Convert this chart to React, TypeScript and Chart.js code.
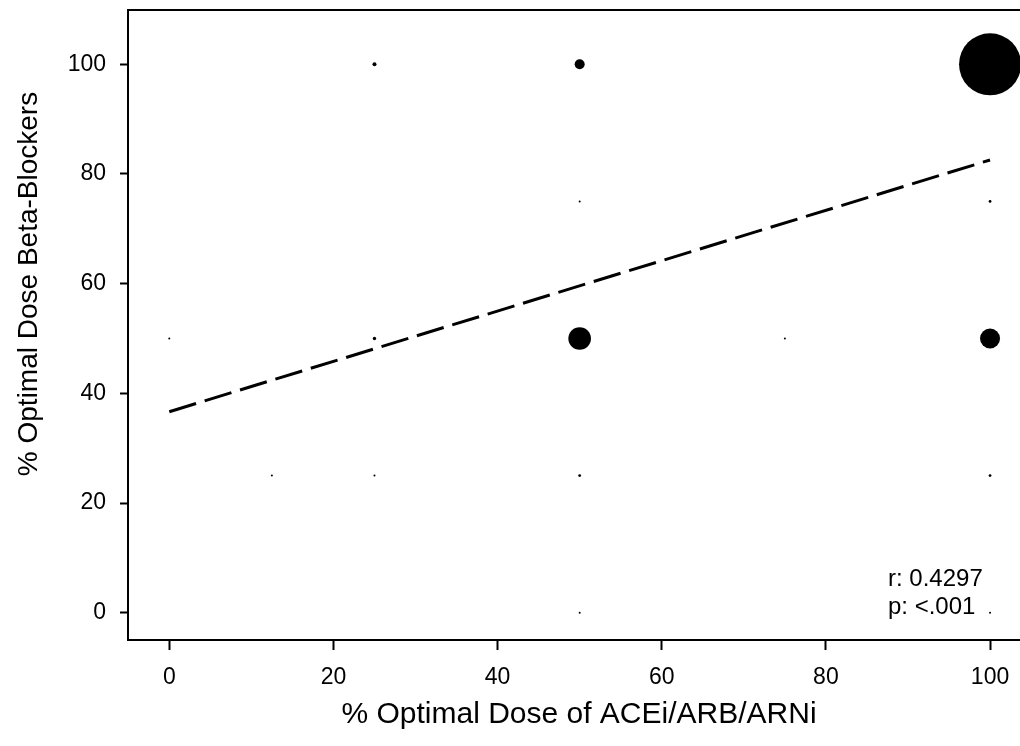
import React, { useEffect, useRef } from 'react';
import { Chart, registerables } from 'chart.js';

Chart.register(...registerables);

// ---- data ----
const xTicks = [0, 20, 40, 60, 80, 100];
const yTicks = [0, 20, 40, 60, 80, 100];
const aceDose = [25, 50, 100, 50, 100, 0, 25, 50, 75, 100, 12.5, 25, 50, 100, 50, 100];
const bbDose = [100, 100, 100, 75, 75, 50, 50, 50, 50, 50, 25, 25, 25, 25, 0, 0];
const patientCount = [4, 25, 961, 1, 2, 1, 3, 128, 1, 100, 1, 1, 2, 2, 1, 1];
const fitX = [0, 100];
const fitY = [36.65, 82.55];
const statLines = ['r: 0.4297', 'p: <.001'];
const xTitle = '% Optimal Dose of ACEi/ARB/ARNi';
const yTitle = '% Optimal Dose Beta-Blockers';

const FONT = "'Liberation Sans', Arial, sans-serif";

function zeroPadding(s: any) {
  s.paddingLeft = 0;
  s.paddingRight = 0;
  s.paddingTop = 0;
  s.paddingBottom = 0;
}

export default function App() {
  const ref = useRef<HTMLCanvasElement | null>(null);

  useEffect(() => {
    document.body.style.margin = '0';
    const canvas = ref.current;
    if (!canvas) return;

    const textPlugin = {
      id: 'textPlugin',
      afterDraw(chart: any) {
        const ctx = chart.ctx as CanvasRenderingContext2D;
        const area = chart.chartArea;
        ctx.save();
        // top frame line
        ctx.strokeStyle = '#000';
        ctx.lineWidth = 2;
        ctx.beginPath();
        ctx.moveTo(area.left - 1, area.top);
        ctx.lineTo(area.right, area.top);
        ctx.stroke();

        ctx.fillStyle = '#000';
        // x title
        ctx.font = `30px ${FONT}`;
        ctx.textAlign = 'center';
        ctx.textBaseline = 'alphabetic';
        ctx.fillText(xTitle, 579, 723);
        // y title
        ctx.font = `28px ${FONT}`;
        ctx.save();
        ctx.translate(37, 284);
        ctx.rotate(-Math.PI / 2);
        ctx.fillText(yTitle, 0, 0);
        ctx.restore();
        // stats
        ctx.font = `24px ${FONT}`;
        ctx.textAlign = 'left';
        ctx.fillText(statLines[0], 888, 586);
        ctx.fillText(statLines[1], 888, 614);
        ctx.restore();
      },
    };

    const chart = new Chart(canvas, {
      type: 'bubble',
      data: {
        datasets: [
          {
            type: 'scatter',
            data: fitX.map((x, i) => ({ x, y: fitY[i] })),
            showLine: true,
            borderColor: '#000',
            borderWidth: 3,
            borderDash: [28, 9],
            pointRadius: 0,
            pointHoverRadius: 0,
            fill: false,
          } as any,
          {
            type: 'bubble',
            data: aceDose.map((x, i) => ({ x, y: bbDose[i], r: Math.sqrt(patientCount[i]) })),
            backgroundColor: '#000',
            borderColor: '#000',
            borderWidth: 0,
            hoverRadius: 0,
          } as any,
        ],
      },
      options: {
        responsive: false,
        animation: false,
        events: [],
        layout: { autoPadding: false, padding: { top: 10, left: 0, right: 0, bottom: 0 } },
        plugins: { legend: { display: false }, tooltip: { enabled: false } },
        scales: {
          x: {
            type: 'linear',
            min: -5.03,
            max: 103.65,
            afterBuildTicks: (s: any) => {
              s.ticks = xTicks.map((v) => ({ value: v }));
            },
            afterFit: (s: any) => {
              s.height = 106;
              zeroPadding(s);
            },
            grid: {
              drawOnChartArea: false,
              drawTicks: true,
              tickLength: 10,
              tickWidth: 2,
              tickColor: '#000',
            },
            border: { display: true, color: '#000', width: 2 },
            ticks: {
              color: '#000',
              font: { family: FONT, size: 23 },
              padding: 14,
              maxRotation: 0,
              autoSkip: false,
            },
          },
          y: {
            type: 'linear',
            min: -4.98,
            max: 109.9,
            afterBuildTicks: (s: any) => {
              s.ticks = yTicks.map((v) => ({ value: v }));
            },
            afterFit: (s: any) => {
              s.width = 128;
              zeroPadding(s);
            },
            grid: {
              drawOnChartArea: false,
              drawTicks: true,
              tickLength: 8,
              tickWidth: 2,
              tickColor: '#000',
            },
            border: { display: true, color: '#000', width: 2 },
            ticks: {
              color: '#000',
              font: { family: FONT, size: 23 },
              padding: 14,
              autoSkip: false,
            },
          },
        },
      } as any,
      plugins: [textPlugin],
    });

    return () => chart.destroy();
  }, []);

  return (
    <div style={{ width: 1020, height: 746, background: '#fff' }}>
      <canvas ref={ref} width={1020} height={746} style={{ display: 'block' }} />
    </div>
  );
}
